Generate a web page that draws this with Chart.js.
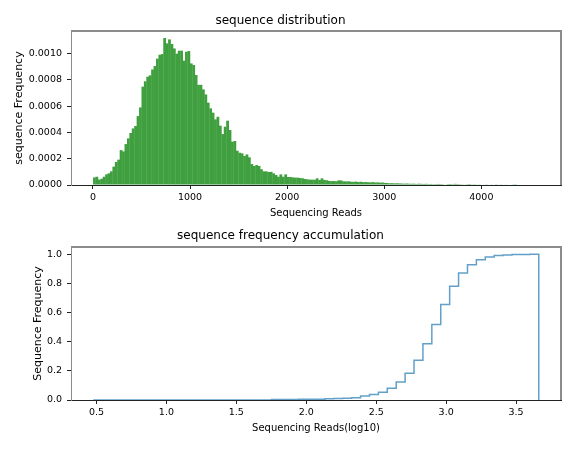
<!DOCTYPE html>
<html>
<head>
<meta charset="utf-8">
<script src="https://cdn.jsdelivr.net/npm/chart.js@4.4.1/dist/chart.umd.min.js"></script>
<style>
  html, body { margin: 0; padding: 0; background: #fff; }
  canvas { display: block; }
</style>
</head>
<body>
<canvas id="distChart" width="585" height="225"></canvas>
<canvas id="accChart" width="585" height="225"></canvas>
<script>
// ==== Données : histogramme des lectures (fréquence, en 1e-3)
const histStart = 3;
const histEnd = 4590;
const readFreq = [
  0.058, 0.063, 0.041, 0.048, 0.063, 0.081, 0.089, 0.104, 0.140, 0.175,
  0.193, 0.266, 0.256, 0.312, 0.355, 0.396, 0.431, 0.449, 0.525, 0.591,
  0.749, 0.790, 0.825, 0.835, 0.880, 0.906, 0.962, 0.992, 0.997, 1.120,
  1.079, 1.109, 1.074, 1.040, 1.000, 1.023, 1.023, 0.947, 1.015, 1.020,
  0.926, 0.914, 0.838, 0.763, 0.763, 0.728, 0.690, 0.627, 0.584, 0.551,
  0.500, 0.520, 0.452, 0.388, 0.444, 0.490, 0.419, 0.330, 0.335, 0.261,
  0.246, 0.241, 0.221, 0.233, 0.211, 0.160, 0.145, 0.152, 0.145, 0.120,
  0.104, 0.104, 0.099, 0.100, 0.089, 0.076, 0.063, 0.081, 0.063, 0.081,
  0.061, 0.061, 0.058, 0.056, 0.056, 0.053, 0.051, 0.046, 0.043, 0.041,
  0.041, 0.040, 0.051, 0.038, 0.051, 0.038, 0.036, 0.031, 0.030, 0.030,
  0.029, 0.036, 0.034, 0.028, 0.027, 0.028, 0.025, 0.024, 0.026, 0.023,
  0.025, 0.022, 0.023, 0.021, 0.020, 0.022, 0.019, 0.020, 0.018, 0.019,
  0.016, 0.015, 0.013, 0.014, 0.012, 0.013, 0.012, 0.011, 0.010, 0.011,
  0.010, 0.009, 0.010, 0.008, 0.010, 0.009, 0.008, 0.009, 0.007, 0.008,
  0.006, 0.007, 0.008, 0.007, 0.006, 0.004, 0.007, 0.008, 0.006, 0.009,
  0.007, 0.006, 0.005, 0.003, 0.006, 0.007, 0.005, 0.002, 0.003, 0.005,
  0.004, 0.004, 0.005, 0.004, 0.003, 0, 0.002, 0, 0.005, 0.004,
  0.003, 0, 0.004, 0.005, 0.002, 0, 0, 0, 0, 0,
  0, 0, 0, 0.004
];
const distXTicks = [0, 1000, 2000, 3000, 4000];
const distYTicks = [0, 0.0002, 0.0004, 0.0006, 0.0008, 0.0010];

// ==== Données : cumul (log10)
const logStart = 0.477;
const logEnd = 3.662;
const cumFreq = [
  0, 0, 0, 0, 0, 0, 0, 0, 0, 0,
  0, 0, 0, 0, 0, 0, 0, 0, 0, 0,
  0.003, 0.004, 0.004, 0.005, 0.005, 0.006, 0.008, 0.010, 0.012, 0.016,
  0.027, 0.037, 0.053, 0.080, 0.123, 0.183, 0.272, 0.386, 0.518, 0.655,
  0.780, 0.872, 0.929, 0.963, 0.982, 0.991, 0.995, 0.998, 0.999, 1.000
];
const accXTicks = [0.5, 1.0, 1.5, 2.0, 2.5, 3.0, 3.5];
const accYTicks = [0, 0.2, 0.4, 0.6, 0.8, 1.0];

// ==== Helpers
Chart.defaults.font.family = "'DejaVu Sans', sans-serif";
Chart.defaults.color = "#000";

function fixTicks(list) {
  return function (scale) { scale.ticks = list.map(v => ({ value: v })); };
}
function fixWidth(w) {
  return function (scale) { scale.width = w; };
}
function fixHeight(h) {
  return function (scale) { scale.height = h; };
}

// cadre gris haut + droite
const frame = {
  id: "frame",
  afterDraw(chart) {
    const { ctx, chartArea: a } = chart;
    ctx.save();
    ctx.strokeStyle = "#8c8c8c";
    ctx.lineWidth = 2;
    ctx.beginPath();
    ctx.moveTo(a.left, a.top);
    ctx.lineTo(a.right, a.top);
    ctx.lineTo(a.right, a.bottom);
    ctx.stroke();
    ctx.restore();
  },
};

function axisStyle(extra) {
  return Object.assign({
    grid: { drawOnChartArea: false, drawTicks: true, tickLength: 4, tickColor: "#222", offset: false },
    ticks: { font: { size: 9.5 }, padding: 3, autoSkip: false, maxRotation: 0, color: "#000" },
  }, extra);
}

// ==== Histogramme
const binW = (histEnd - histStart) / readFreq.length;
const distData = readFreq.map((v, i) => ({ x: histStart + (i + 0.5) * binW, y: v / 1000 }));

new Chart(document.getElementById("distChart"), {
  type: "bar",
  data: {
    datasets: [{
      data: distData,
      backgroundColor: "rgb(64,160,64)",
      borderWidth: 0,
      barPercentage: 1.15,
      categoryPercentage: 1,
    }],
  },
  options: {
    responsive: false,
    animation: false,
    layout: { padding: { left: 0, right: 24, top: 0, bottom: 0 } },
    plugins: {
      legend: { display: false },
      tooltip: { enabled: false },
      title: {
        display: true,
        text: "sequence distribution",
        font: { size: 12, weight: "normal" },
        color: "#000",
        padding: { top: 13.5, bottom: 3.1 },
      },
    },
    scales: {
      x: axisStyle({
        type: "linear",
        offset: false,
        min: -226,
        max: 4820,
        afterBuildTicks: fixTicks(distXTicks),
        afterFit: fixHeight(40),
        border: { color: "#222", width: 1 },
        title: { display: true, text: "Sequencing Reads", font: { size: 10 }, padding: { top: 0, bottom: 6 } },
        ticks: { font: { size: 9.5 }, padding: 3, autoSkip: false, maxRotation: 0, color: "#000", callback: v => String(v) },
      }),
      y: axisStyle({
        min: 0,
        max: 0.001173,
        afterBuildTicks: fixTicks(distYTicks),
        afterFit: fixWidth(71),
        border: { color: "#8c8c8c", width: 1 },
        title: { display: true, text: "sequence Frequency", font: { size: 11 }, padding: { top: 12.4, bottom: 0 } },
        ticks: { font: { size: 9.5 }, padding: 5, color: "#000", callback: v => v.toFixed(4) },
      }),
    },
  },
  plugins: [frame],
});

// ==== Cumul
const logW = (logEnd - logStart) / cumFreq.length;
const accData = cumFreq.map((v, i) => ({ x: logStart + i * logW, y: v }));
accData.push({ x: logEnd, y: cumFreq[cumFreq.length - 1] });
accData.push({ x: logEnd, y: 0 });

new Chart(document.getElementById("accChart"), {
  type: "line",
  data: {
    datasets: [{
      data: accData,
      borderColor: "rgba(31,119,180,0.7)",
      borderWidth: 1.5,
      pointRadius: 0,
      fill: false,
      stepped: "before",
    }],
  },
  options: {
    responsive: false,
    animation: false,
    layout: { padding: { left: 0, right: 24, top: 0, bottom: 0 } },
    plugins: {
      legend: { display: false },
      tooltip: { enabled: false },
      title: {
        display: true,
        text: "sequence frequency accumulation",
        font: { size: 12, weight: "normal" },
        color: "#000",
        padding: { top: 4, bottom: 3.6 },
      },
    },
    scales: {
      x: axisStyle({
        type: "linear",
        z: 1,
        min: 0.318,
        max: 3.821,
        afterBuildTicks: fixTicks(accXTicks),
        afterFit: fixHeight(50),
        border: { color: "#222", width: 1 },
        title: { display: true, text: "Sequencing Reads(log10)", font: { size: 10 }, padding: { top: 0, bottom: 16 } },
        ticks: { font: { size: 9.5 }, padding: 3, autoSkip: false, maxRotation: 0, color: "#000", callback: v => v.toFixed(1) },
      }),
      y: axisStyle({
        min: 0,
        max: 1.05,
        afterBuildTicks: fixTicks(accYTicks),
        afterFit: fixWidth(71),
        border: { color: "#8c8c8c", width: 1 },
        title: { display: true, text: "Sequence Frequency", font: { size: 11 }, padding: { top: 31.4, bottom: 0 } },
        ticks: { font: { size: 9.5 }, padding: 5, color: "#000", callback: v => v.toFixed(1) },
      }),
    },
  },
  plugins: [frame],
});
</script>
</body>
</html>
